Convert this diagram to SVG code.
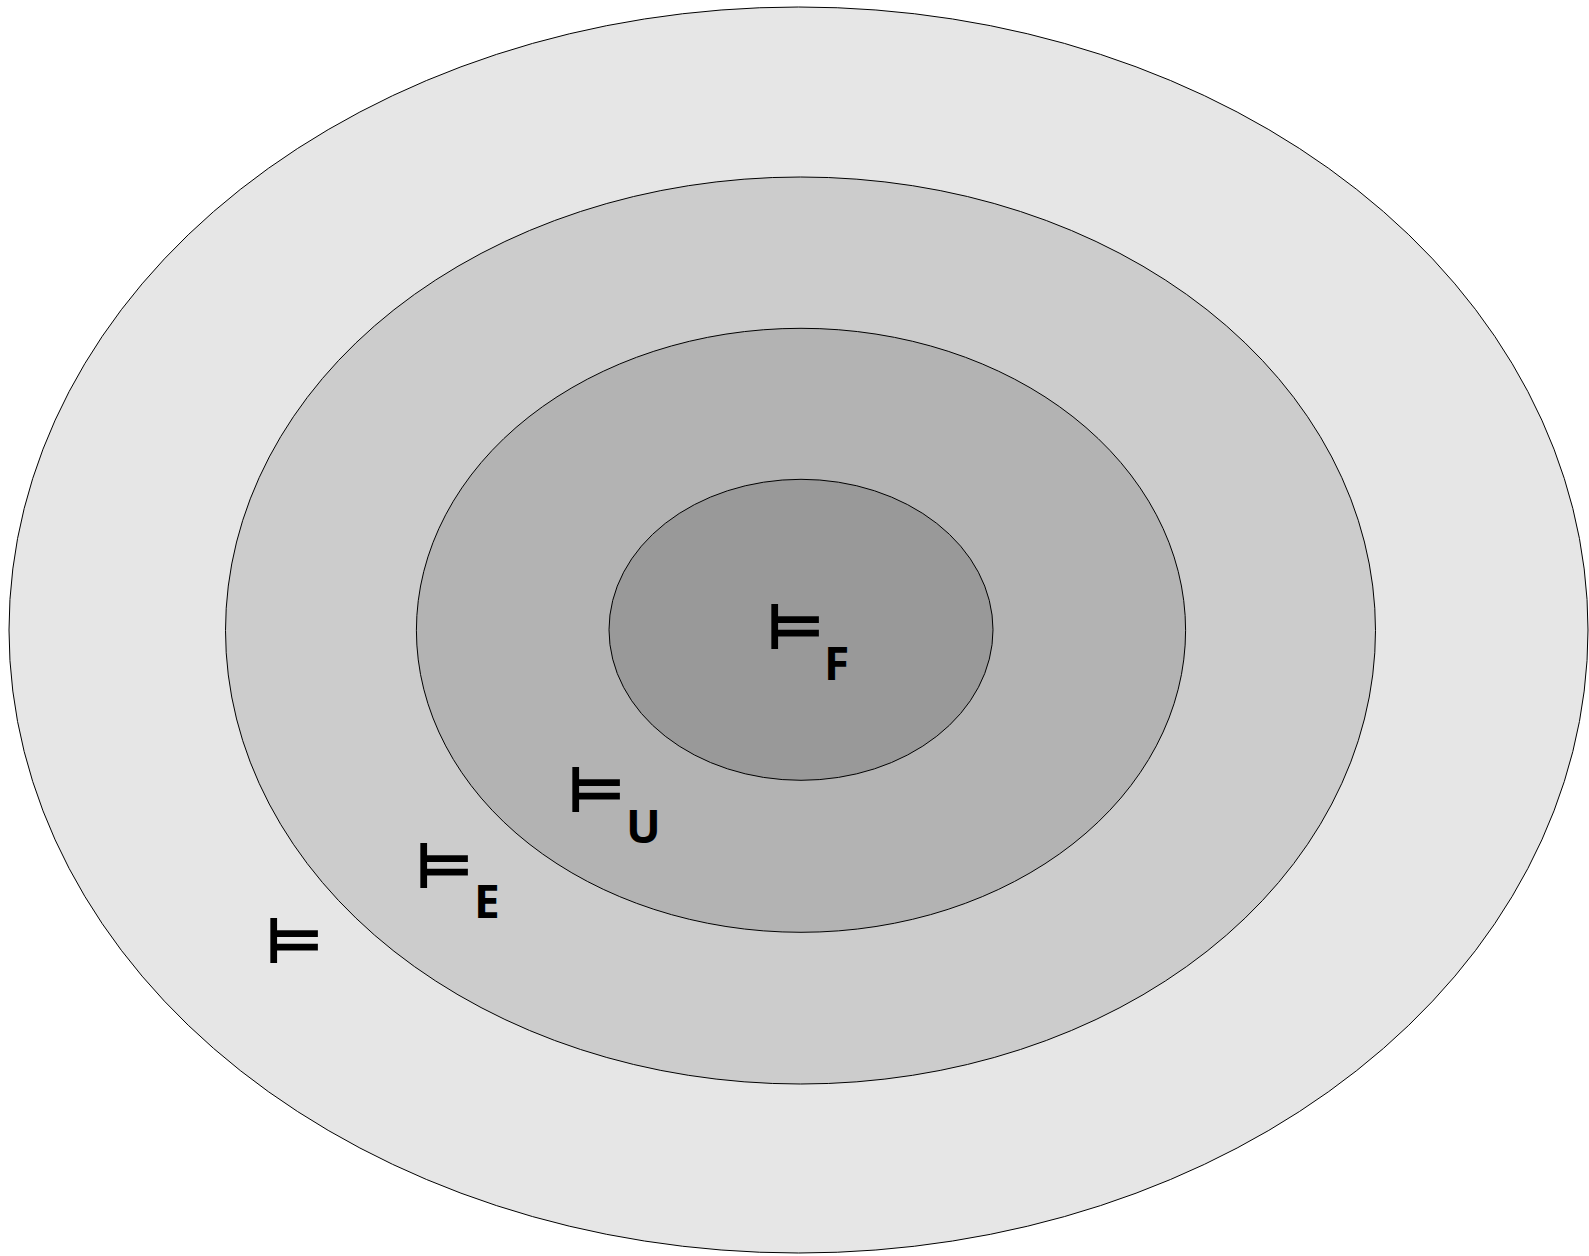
<svg xmlns="http://www.w3.org/2000/svg" width="1589" height="1256" viewBox="0 0 1589 1256">
<style>
.ring{stroke:#000;stroke-width:1}
.ts{font-family:"DejaVu Sans",sans-serif;font-weight:bold;font-size:64px;fill:#000}
.sub{font-family:"Open Sans","Liberation Sans",sans-serif;font-weight:bold;font-size:46px;fill:#000}
</style>
<rect width="1589" height="1256" fill="#fff"/>
<g id="ring-outer"><ellipse class="ring" cx="798.5" cy="630" rx="789.5" ry="623" fill="#e6e6e6"/></g>
<g id="ring-e"><ellipse class="ring" cx="800.5" cy="630.5" rx="575" ry="453.5" fill="#cccccc"/></g>
<g id="ring-u"><ellipse class="ring" cx="801" cy="630.3" rx="384.6" ry="302" fill="#b3b3b3"/></g>
<g id="ring-f"><ellipse class="ring" cx="801" cy="629.8" rx="192" ry="150.5" fill="#999999"/></g>
<g id="label-f"><text class="ts" x="766" y="649">⊨</text><text class="sub" x="824" y="680">F</text></g>
<g id="label-u"><text class="ts" x="567" y="812">⊨</text><text class="sub" x="626" y="843">U</text></g>
<g id="label-e"><text class="ts" x="415" y="888">⊨</text><text class="sub" x="474" y="918">E</text></g>
<g id="label-plain"><text class="ts" x="265" y="963">⊨</text></g>
</svg>
